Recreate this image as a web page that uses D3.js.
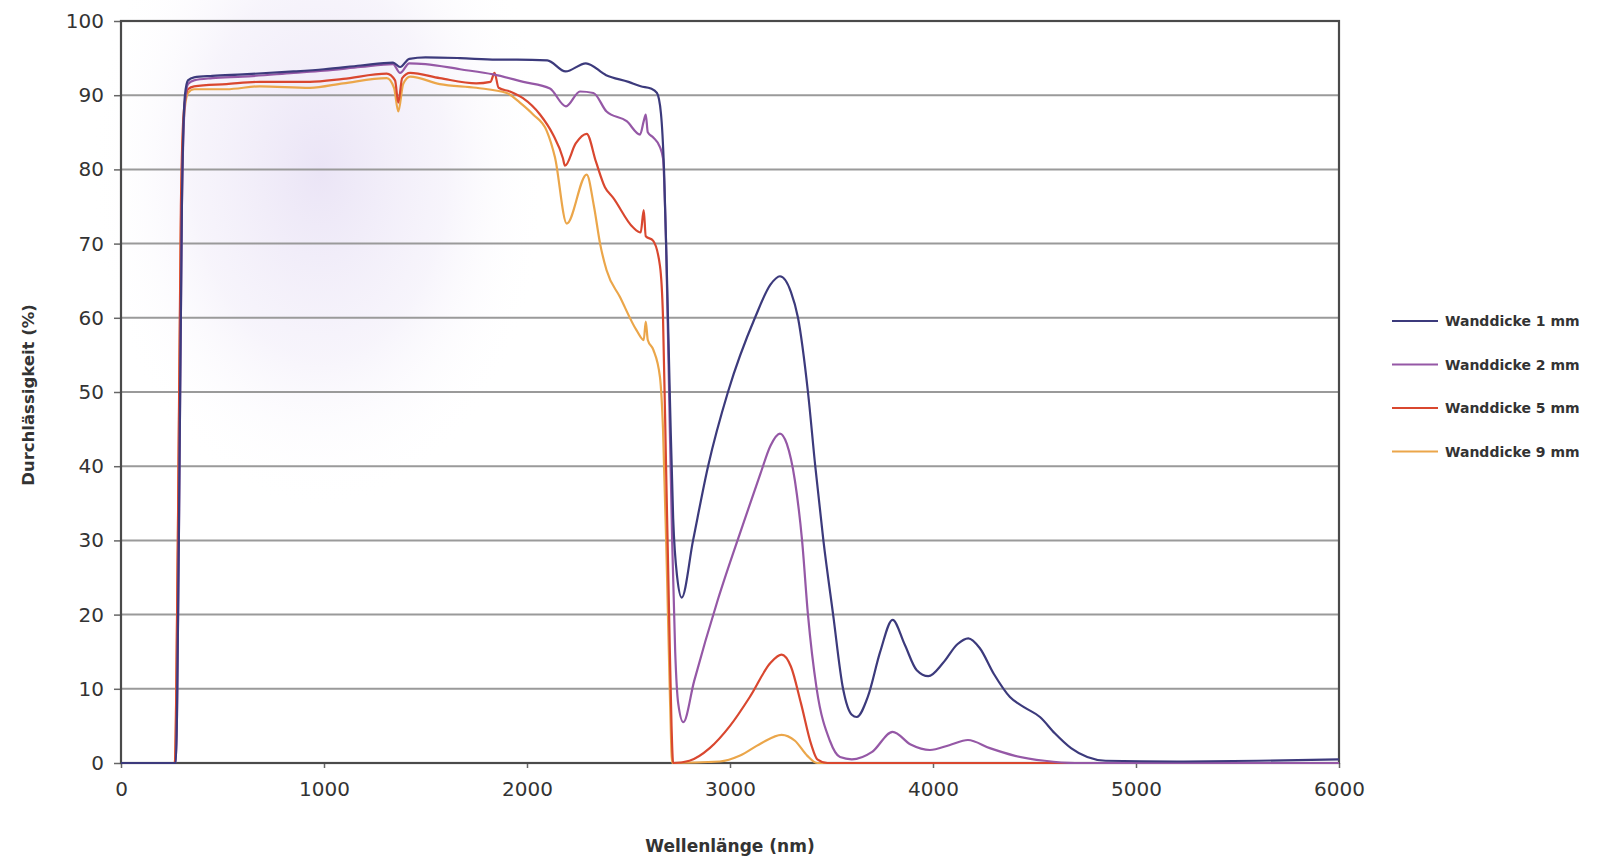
<!DOCTYPE html>
<html>
<head>
<meta charset="utf-8">
<script src="https://cdn.jsdelivr.net/npm/d3@7"></script>
<style>
  body { margin: 0; background: #fff; }
  svg { display: block; }
  text { font-family: "DejaVu Sans", sans-serif; fill: #333; }
</style>
</head>
<body>
<svg id="chart" width="1605" height="861"></svg>
<script>
// series labels and colours
var seriesNames = ["Wanddicke 1 mm", "Wanddicke 2 mm", "Wanddicke 5 mm", "Wanddicke 9 mm"]
var seriesColors = ["#3c3a7c", "#9558a6", "#d9472f", "#eba64a"]

// wavelength (nm) / transmission (%)
var wl1 = [0, 270, 285, 300, 315, 330, 360, 450, 600, 850, 1000, 1180, 1340, 1375, 1420, 1500, 1670, 1850, 1950, 2100, 2190, 2290, 2390, 2500, 2560, 2610, 2640, 2660, 2675, 2690, 2705, 2720, 2740, 2762, 2818, 2892, 2990, 3123, 3200, 3246, 3300, 3335, 3384, 3420, 3460, 3508, 3557, 3600, 3624, 3680, 3740, 3801, 3860, 3920, 3977, 4050, 4120, 4174, 4230, 4300, 4379, 4450, 4527, 4600, 4680, 4760, 4850, 5200, 5600, 6000]
var t1 = [0, 0, 30, 75, 90, 92, 92.4, 92.6, 92.8, 93.2, 93.5, 94, 94.4, 93.8, 94.9, 95.1, 95, 94.8, 94.8, 94.7, 93.2, 94.3, 92.7, 91.8, 91.2, 90.9, 90.3, 87.5, 80, 65, 48, 33, 25, 22.3, 30, 40, 50, 60, 64.5, 65.6, 63.5, 60, 50, 40, 30, 20, 10, 6.5, 6.2, 9, 15, 19.3, 16, 12.5, 11.7, 13.5, 16, 16.8, 15.5, 12, 8.9, 7.5, 6.2, 4, 2, 0.8, 0.3, 0.2, 0.3, 0.5]

var wl2 = [0, 270, 285, 300, 315, 330, 360, 450, 600, 850, 1000, 1180, 1340, 1375, 1420, 1500, 1670, 1834, 1982, 2113, 2192, 2261, 2327, 2392, 2491, 2557, 2575, 2585, 2595, 2622, 2655, 2670, 2685, 2700, 2715, 2730, 2745, 2770, 2823, 2940, 3062, 3150, 3200, 3246, 3280, 3320, 3355, 3384, 3427, 3492, 3542, 3600, 3700, 3801, 3890, 3985, 4080, 4172, 4280, 4400, 4550, 4700, 6000]
var t2 = [0, 0, 30, 75, 89, 91.5, 92, 92.3, 92.5, 93, 93.3, 93.8, 94.2, 93, 94.3, 94.2, 93.5, 92.8, 91.8, 90.9, 88.5, 90.5, 90.3, 87.8, 86.5, 84.7, 86.5, 87.4, 85, 84.3, 83, 81.5, 70, 50, 30, 15, 8, 5.5, 11, 22, 32, 39, 42.8, 44.4, 43, 38, 30, 20, 10, 3, 0.8, 0.5, 1.5, 4.2, 2.5, 1.75, 2.4, 3.1, 2, 1, 0.3, 0, 0]

var wl5 = [0, 265, 280, 295, 310, 330, 360, 520, 684, 931, 1095, 1309, 1350, 1366, 1385, 1424, 1570, 1750, 1820, 1840, 1860, 1916, 1980, 2064, 2128, 2177, 2187, 2240, 2294, 2340, 2384, 2424, 2522, 2560, 2575, 2585, 2621, 2655, 2670, 2685, 2700, 2712, 2720, 2800, 2900, 3000, 3100, 3200, 3254, 3300, 3350, 3400, 3430, 3480, 6000]
var t5 = [0, 0, 30, 75, 88, 90.8, 91.2, 91.5, 91.8, 91.8, 92.2, 92.9, 92, 89, 92.3, 93, 92.3, 91.6, 91.8, 93, 91, 90.5, 89.6, 87.4, 84.7, 81.5, 80.5, 83.5, 84.8, 81, 77.6, 76.2, 72.2, 71.5, 74.5, 71, 70.4, 67, 60, 40, 20, 5, 0, 0.3, 2, 5, 9, 13.5, 14.6, 13, 8, 2.5, 0.5, 0, 0]

var wl9 = [0, 265, 280, 295, 310, 330, 360, 520, 684, 931, 1095, 1309, 1345, 1366, 1390, 1424, 1570, 1750, 1900, 1965, 2030, 2097, 2138, 2196, 2294, 2330, 2360, 2392, 2458, 2540, 2575, 2585, 2595, 2622, 2655, 2670, 2690, 2705, 2715, 2950, 3050, 3150, 3254, 3320, 3380, 3430, 6000]
var t9 = [0, 0, 30, 72, 87, 90.3, 90.8, 90.8, 91.2, 91, 91.6, 92.3, 91, 87.8, 91.5, 92.5, 91.5, 91, 90.3, 89, 87.4, 85.2, 81.6, 72.7, 79.3, 75, 70, 66.4, 62.8, 58.3, 57, 59.5, 57, 55.7, 52, 45, 25, 8, 0, 0.2, 1, 2.6, 3.8, 3, 1, 0, 0]

var xTicks = [0, 1000, 2000, 3000, 4000, 5000, 6000]
var yTicks = [0, 10, 20, 30, 40, 50, 60, 70, 80, 90, 100]

var svg = d3.select("#chart")
var x = d3.scaleLinear().domain([0, 6000]).range([121, 1339])
var y = d3.scaleLinear().domain([0, 100]).range([763, 21])

// faint lavender cloud from the scanned original
var defs = svg.append("defs")
var grad = defs.append("radialGradient").attr("id", "cloud")
grad.append("stop").attr("offset", "0%").attr("stop-color", "#ddd3f0").attr("stop-opacity", 0.6)
grad.append("stop").attr("offset", "55%").attr("stop-color", "#e8e1f5").attr("stop-opacity", 0.35)
grad.append("stop").attr("offset", "100%").attr("stop-color", "#ffffff").attr("stop-opacity", 0)
svg.append("ellipse").attr("cx", 320).attr("cy", 170).attr("rx", 230).attr("ry", 340).attr("fill", "url(#cloud)")

// grid
svg.append("g").selectAll("line").data(yTicks.filter(function(d){ return d > 0 && d < 100 }))
  .enter().append("line")
  .attr("x1", x(0)).attr("x2", x(6000))
  .attr("y1", function(d){ return y(d) }).attr("y2", function(d){ return y(d) })
  .attr("stroke", "#9a9a9a").attr("stroke-width", 2)

// axes
var yAxis = svg.append("g").attr("transform", "translate(" + x(0) + ",0)")
  .call(d3.axisLeft(y).tickValues(yTicks).tickSize(7).tickPadding(10))
var xAxis = svg.append("g").attr("transform", "translate(0," + y(0) + ")")
  .call(d3.axisBottom(x).tickValues(xTicks).tickSize(5).tickPadding(14).tickFormat(d3.format("d")))
;[yAxis, xAxis].forEach(function(a){
  a.select(".domain").remove()
  a.selectAll("line").attr("stroke", "#666").attr("stroke-width", 1.5)
  a.selectAll("text").attr("font-size", 20).attr("fill", "#333").style("font-family", "DejaVu Sans, sans-serif")
})

// frame
svg.append("rect").attr("x", x(0)).attr("y", y(100))
  .attr("width", x(6000) - x(0)).attr("height", y(0) - y(100))
  .attr("fill", "none").attr("stroke", "#4a4a4a").attr("stroke-width", 2.2)

// curves
var series = [
  { wl: wl9, t: t9, c: seriesColors[3] },
  { wl: wl5, t: t5, c: seriesColors[2] },
  { wl: wl2, t: t2, c: seriesColors[1] },
  { wl: wl1, t: t1, c: seriesColors[0] }
]
var line = d3.line()
  .x(function(d){ return x(d[0]) })
  .y(function(d){ return y(d[1]) })
  .curve(d3.curveMonotoneX)
svg.append("g").selectAll("path").data(series).enter().append("path")
  .attr("d", function(s){ return line(d3.zip(s.wl, s.t)) })
  .attr("fill", "none")
  .attr("stroke", function(s){ return s.c })
  .attr("stroke-width", 2.2)
  .attr("stroke-linejoin", "round")

// axis titles
svg.append("text").attr("x", 730).attr("y", 852).attr("text-anchor", "middle")
  .attr("font-size", 17).attr("font-weight", "bold").text("Wellenlänge (nm)")
svg.append("text").attr("transform", "translate(34,395) rotate(-90)").attr("text-anchor", "middle")
  .attr("font-size", 16.5).attr("font-weight", "bold").text("Durchlässigkeit (%)")

// legend
var legend = svg.append("g").selectAll("g").data(seriesNames).enter().append("g")
  .attr("transform", function(d, i){ return "translate(1392," + (321 + i * 43.5) + ")" })
legend.append("line").attr("x1", 0).attr("x2", 46).attr("y1", 0).attr("y2", 0)
  .attr("stroke", function(d, i){ return seriesColors[i] }).attr("stroke-width", 2.2)
legend.append("text").attr("x", 53).attr("y", 5).attr("font-size", 14).attr("font-weight", "bold")
  .attr("fill", "#333").text(function(d){ return d })
</script>
</body>
</html>
